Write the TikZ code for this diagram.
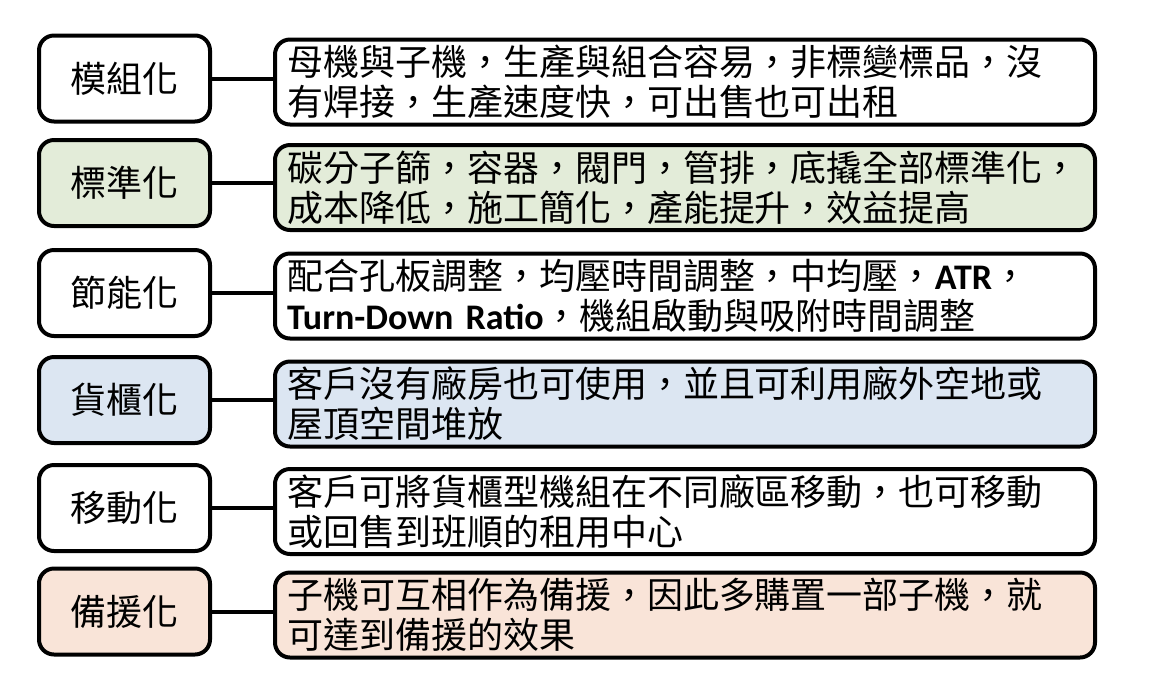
\documentclass[tikz,border=0pt]{standalone}
\usepackage{fontspec}
\setmainfont{Noto Sans CJK TC}
\newfontfamily\calibri{Carlito}
\usetikzlibrary{positioning}

\definecolor{greenfill}{HTML}{E3ECD9}
\definecolor{bluefill}{HTML}{DCE6F2}
\definecolor{peachfill}{HTML}{F9E4D8}

\tikzset{
	tag/.style={draw, line width=2pt, rounded corners=7.5pt, minimum width=85.5pt, minimum height=43pt, inner sep=0pt, align=center},
	desc/.style={draw, line width=2pt, rounded corners=7.5pt, text width=398pt, minimum height=42.5pt, inner xsep=6pt, inner ysep=0pt, align=left},
	link/.style={line width=2pt}
}

\begin{document}
\begin{tikzpicture}[node distance=53.5pt,on grid,font=\fontsize{18pt}{20pt}\selectfont]
	\useasboundingbox (0,0) rectangle (582pt,-349pt);
	\node[tag] (t1) at (62.25pt,-39.25pt) {模組化};
	\node[tag,fill=greenfill] (t2) [below=52.25pt of t1] {標準化};
	\node[tag] (t3) [below=55pt of t2] {節能化};
	\node[tag,fill=bluefill] (t4) [below=of t3] {貨櫃化};
	\node[tag] (t5) [below=54pt of t4] {移動化};
	\node[tag,fill=peachfill] (t6) [below=51.75pt of t5] {備援化};
	\node[desc] (d1) [right=280.25pt of t1,yshift=-1.75pt] {母機與子機，生產與組合容易，非標變標品，沒\\有焊接，生產速度快，可出售也可出租};
	\node[desc,fill=greenfill] (d2) [right=280.25pt of t2,yshift=-2.25pt] {碳分子篩，容器，閥門，管排，底撬全部標準化，\\成本降低，施工簡化，產能提升，效益提高};
	\node[desc] (d3) [right=280.25pt of t3,yshift=-1.5pt] {配合孔板調整，均壓時間調整，中均壓，{\calibri\bfseries ATR}，\\{\calibri\bfseries Turn-Down Ratio}，機組啟動與吸附時間調整};
	\node[desc,fill=bluefill] (d4) [right=280.25pt of t4,yshift=-2pt] {客戶沒有廠房也可使用，並且可利用廠外空地或\\屋頂空間堆放};
	\node[desc] (d5) [right=280.25pt of t5,yshift=-1.75pt] {客戶可將貨櫃型機組在不同廠區移動，也可移動\\或回售到班順的租用中心};
	\node[desc,fill=peachfill] (d6) [right=280.25pt of t6,yshift=-1.75pt] {子機可互相作為備援，因此多購置一部子機，就\\可達到備援的效果};
	% connectors
	\foreach \i in {1,...,6}
		\draw[link] (t\i.east) -- (t\i.east -| d\i.west);
\end{tikzpicture}
\end{document}
